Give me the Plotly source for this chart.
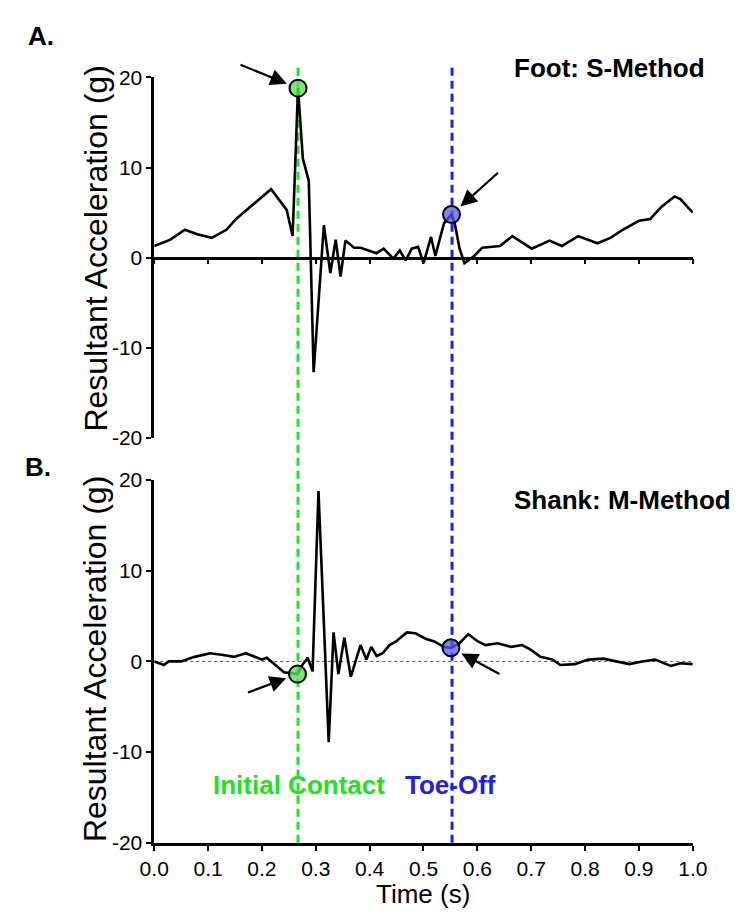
import plotly.graph_objects as go

# ---- data -------------------------------------------------------------
# Foot sensor, S-Method: resultant acceleration (g) over one gait cycle
foot_t = [0.0, 0.03, 0.057, 0.08, 0.107, 0.134, 0.152, 0.182, 0.217, 0.246,
          0.257, 0.267, 0.276, 0.287, 0.296, 0.315, 0.327, 0.337, 0.346, 0.355,
          0.371, 0.383, 0.398, 0.413, 0.426, 0.444, 0.456, 0.467, 0.478, 0.490,
          0.500, 0.514, 0.522, 0.538, 0.552, 0.558, 0.567, 0.576, 0.594, 0.609,
          0.642, 0.665, 0.701, 0.734, 0.757, 0.787, 0.823, 0.847, 0.870, 0.900,
          0.921, 0.941, 0.966, 0.977, 1.0]
foot_acc = [1.3, 2.0, 3.1, 2.6, 2.2, 3.1, 4.3, 5.8, 7.6, 5.3,
            2.4, 18.8, 11.0, 8.5, -12.7, 3.6, -1.7, 2.0, -2.1, 1.9,
            1.1, 1.1, 0.8, 0.5, 1.0, -0.1, 0.8, -0.3, 1.0, 1.2,
            -0.6, 2.3, 0.2, 3.8, 4.8, 3.8, 1.0, -0.6, 0.2, 1.1,
            1.3, 2.4, 1.0, 1.9, 1.3, 2.4, 1.6, 2.2, 3.1, 4.1,
            4.3, 5.6, 6.8, 6.5, 5.0]

# Shank sensor, M-Method
shank_t = [0.0, 0.018, 0.027, 0.05, 0.075, 0.104, 0.128, 0.148, 0.170, 0.187,
           0.200, 0.209, 0.223, 0.241, 0.266, 0.276, 0.285, 0.294, 0.305, 0.324,
           0.333, 0.342, 0.353, 0.365, 0.383, 0.394, 0.403, 0.413, 0.424, 0.437,
           0.449, 0.469, 0.485, 0.504, 0.520, 0.538, 0.551, 0.567, 0.583, 0.601,
           0.615, 0.638, 0.663, 0.683, 0.699, 0.717, 0.740, 0.754, 0.781, 0.806,
           0.834, 0.852, 0.882, 0.906, 0.930, 0.959, 0.977, 1.0]
shank_acc = [0.0, -0.4, 0.0, 0.0, 0.5, 0.9, 0.7, 0.5, 0.9, 0.5,
             0.2, 0.4, -0.3, -1.2, -1.4, -0.3, 0.4, -1.1, 18.8, -8.9,
             3.2, -1.4, 2.6, -1.7, 1.8, 0.2, 1.6, 0.6, 0.9, 1.8,
             2.2, 3.2, 3.1, 2.5, 2.2, 1.6, 1.5, 2.0, 3.0, 2.2,
             1.8, 2.0, 1.6, 1.8, 1.3, 0.5, 0.2, -0.4, -0.3, 0.2,
             0.3, 0.1, -0.3, 0.0, 0.2, -0.5, -0.2, -0.3]

# Detected gait events: [initial contact, toe-off]
foot_event_t = [0.267, 0.552]
foot_event_acc = [18.8, 4.8]
shank_event_t = [0.266, 0.551]
shank_event_acc = [-1.4, 1.5]
initial_contact_t = 0.267
toe_off_t = 0.553

x_ticks = [0.0, 0.1, 0.2, 0.3, 0.4, 0.5, 0.6, 0.7, 0.8, 0.9, 1.0]
y_ticks = [-20, -10, 0, 10, 20]
y_tick_labels = ["-20", "-10", "0", "10", "20"]

# ---- styling ----------------------------------------------------------
W, H = 751, 923
FONT = "Arial, Liberation Sans, sans-serif"
GREEN = "#22e022"
BLUE = "#1f1fe6"
GREEN_FILL = "rgba(90,225,90,0.8)"
BLUE_FILL = "rgba(90,90,240,0.75)"

def px_x(p):
    return p / W

def px_y(p):
    return 1 - p / H

x_dom = [px_x(145), px_x(706)]
top_dom = [px_y(437), px_y(67)]
bot_dom = [px_y(852), px_y(480)]

fig = go.Figure()

fig.add_trace(go.Scatter(x=foot_t, y=foot_acc, mode="lines",
                         line=dict(color="black", width=2.6),
                         xaxis="x", yaxis="y", showlegend=False))
fig.add_trace(go.Scatter(x=shank_t, y=shank_acc, mode="lines",
                         line=dict(color="black", width=2.6),
                         xaxis="x2", yaxis="y2", showlegend=False))

# event markers
for ex, ey, xa, ya in [(foot_event_t, foot_event_acc, "x", "y"),
                       (shank_event_t, shank_event_acc, "x2", "y2")]:
    fig.add_trace(go.Scatter(
        x=ex, y=ey, mode="markers", xaxis=xa, yaxis=ya, showlegend=False,
        marker=dict(size=17, color=[GREEN_FILL, BLUE_FILL],
                    line=dict(color="black", width=2))))

shapes = [
    # dotted zero reference in the shank panel
    dict(type="line", xref="x2", yref="y2", x0=0, x1=1, y0=0, y1=0,
         line=dict(color="#555555", width=1, dash="dot"), layer="below"),
    # event lines spanning both panels
    dict(type="line", xref="x2", yref="paper", x0=initial_contact_t,
         x1=initial_contact_t, y0=bot_dom[0], y1=px_y(57),
         line=dict(color=GREEN, width=3, dash="8px,5px"), layer="below"),
    dict(type="line", xref="x2", yref="paper", x0=toe_off_t, x1=toe_off_t,
         y0=bot_dom[0], y1=px_y(57),
         line=dict(color=BLUE, width=3, dash="8px,5px"), layer="below"),
]

annotations = [
    dict(text="<b>A.</b>", x=px_x(11), y=px_y(25), xref="paper", yref="paper",
         xanchor="left", yanchor="middle", showarrow=False,
         font=dict(size=26, color="black", family=FONT)),
    dict(text="<b>B.</b>", x=px_x(8), y=px_y(467), xref="paper", yref="paper",
         xanchor="left", yanchor="middle", showarrow=False,
         font=dict(size=26, color="black", family=FONT)),
    dict(text="<b>Foot: S-Method</b>", x=px_x(721), y=px_y(57), xref="paper",
         yref="paper", xanchor="right", yanchor="middle", showarrow=False,
         font=dict(size=26, color="black", family=FONT)),
    dict(text="<b>Shank: M-Method</b>", x=px_x(748), y=px_y(500), xref="paper",
         yref="paper", xanchor="right", yanchor="middle", showarrow=False,
         font=dict(size=26, color="black", family=FONT)),
    dict(text="<b>Initial Contact</b>", x=px_x(296), y=px_y(793), xref="paper",
         yref="paper", xanchor="center", yanchor="middle", showarrow=False,
         font=dict(size=26, color=GREEN, family=FONT)),
    dict(text="<b>Toe-Off</b>", x=px_x(454), y=px_y(793), xref="paper",
         yref="paper", xanchor="center", yanchor="middle", showarrow=False,
         font=dict(size=26, color=BLUE, family=FONT)),
    dict(text="Resultant Acceleration (g)", x=px_x(84), y=px_y(243),
         xref="paper", yref="paper", textangle=-90, showarrow=False,
         xanchor="center", yanchor="middle",
         font=dict(size=32, color="black", family=FONT)),
    dict(text="Resultant Acceleration (g)", x=px_x(84), y=px_y(664),
         xref="paper", yref="paper", textangle=-90, showarrow=False,
         xanchor="center", yanchor="middle",
         font=dict(size=32, color="black", family=FONT)),
    dict(text="Time (s)", x=px_x(425), y=px_y(905), xref="paper",
         yref="paper", xanchor="center", yanchor="middle", showarrow=False,
         font=dict(size=26, color="black", family=FONT)),
]

# arrows pointing at each detected event
arrow_specs = [
    (foot_event_t[0], foot_event_acc[0], "x", "y", -59, -24),
    (foot_event_t[1], foot_event_acc[1], "x", "y", 48, -43),
    (shank_event_t[0], shank_event_acc[0], "x2", "y2", -51, 19),
    (shank_event_t[1], shank_event_acc[1], "x2", "y2", 50, 27),
]
for ax_t, ay_v, xr, yr, dx, dy in arrow_specs:
    annotations.append(dict(
        x=ax_t, y=ay_v, xref=xr, yref=yr, ax=dx, ay=dy, text="",
        showarrow=True, arrowhead=2, arrowsize=1.5, arrowwidth=2.2,
        arrowcolor="black", standoff=12))

axis_common = dict(showgrid=False, zeroline=False, showline=True,
                   linecolor="black", linewidth=2.5, ticks="outside",
                   ticklen=5, tickwidth=2, tickcolor="black",
                   tickfont=dict(size=21, color="black", family=FONT))

fig.update_layout(
    width=W, height=H,
    margin=dict(l=0, r=0, t=0, b=0),
    paper_bgcolor="white", plot_bgcolor="white",
    showlegend=False,
    xaxis=dict(domain=x_dom, range=[0, 1], anchor="free",
               position=(top_dom[0] + top_dom[1]) / 2,
               tickvals=x_ticks, showticklabels=False, **axis_common),
    yaxis=dict(domain=top_dom, range=[-20, 20], anchor="x",
               tickvals=y_ticks, ticktext=y_tick_labels, **axis_common),
    xaxis2=dict(domain=x_dom, range=[0, 1], anchor="y2",
                tickvals=x_ticks, tickformat=".1f", **axis_common),
    yaxis2=dict(domain=bot_dom, range=[-20, 20], anchor="x2",
                tickvals=y_ticks, ticktext=y_tick_labels, **axis_common),
    shapes=shapes,
    annotations=annotations,
)

fig.write_html("out.html")
